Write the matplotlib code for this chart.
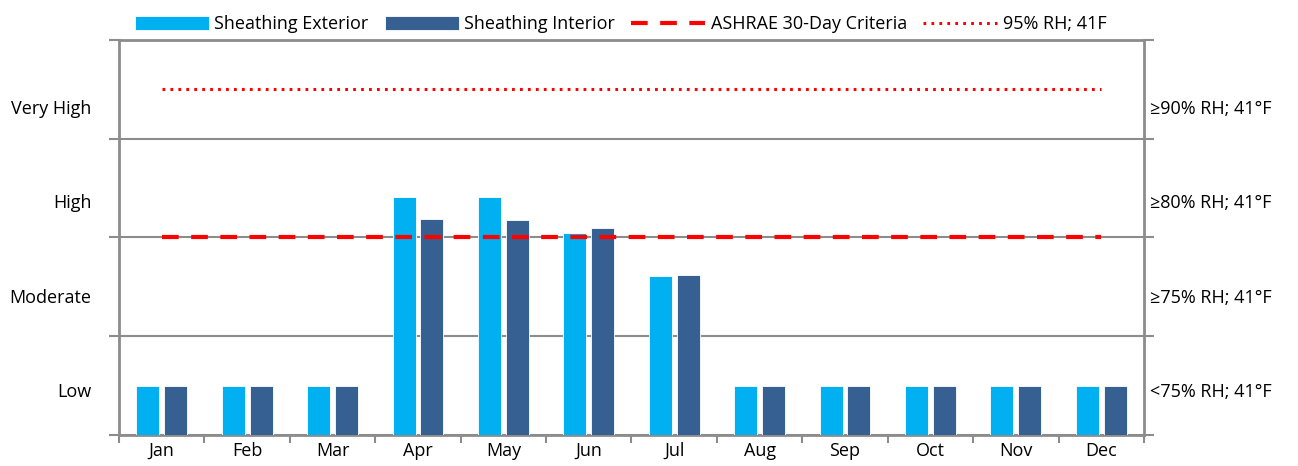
import matplotlib
matplotlib.use("Agg")
import matplotlib.pyplot as plt
import numpy as np

months = ["Jan", "Feb", "Mar", "Apr", "May", "Jun",
          "Jul", "Aug", "Sep", "Oct", "Nov", "Dec"]
exterior = [0.5, 0.5, 0.5, 2.41, 2.41, 2.05, 1.61, 0.5, 0.5, 0.5, 0.5, 0.5]
interior = [0.5, 0.5, 0.5, 2.19, 2.18, 2.10, 1.62, 0.5, 0.5, 0.5, 0.5, 0.5]
ashrae = 2.0
rh95 = 3.5
left_labels = ["Low", "Moderate", "High", "Very High"]
right_labels = ["<75% RH; 41°F", "≥75% RH; 41°F", "≥80% RH; 41°F", "≥90% RH; 41°F"]
label_y = [0.44, 1.39, 2.35, 3.30]

EXT_COLOR = "#00B0F0"
INT_COLOR = "#376092"
GRID = "#8C8C8C"

plt.rcParams.update({
    "font.family": ["Open Sans", "DejaVu Sans"],
    "font.size": 13,
})

fig = plt.figure(figsize=(12.98, 4.66), dpi=100)
ax = fig.add_axes([0.0917, 0.0665, 0.7896, 0.8477])

x = np.arange(len(months))
w = 0.27
b1 = ax.bar(x - 0.163, exterior, width=w, color=EXT_COLOR, edgecolor="white",
            linewidth=0.6, label="Sheathing Exterior", zorder=3)
b2 = ax.bar(x + 0.163, interior, width=w, color=INT_COLOR, edgecolor="white",
            linewidth=0.6, label="Sheathing Interior", zorder=3)
l1, = ax.plot([x[0], x[-1]], [ashrae, ashrae], color="red", lw=3,
              linestyle=(0, (4, 3)), label="ASHRAE 30-Day Criteria", zorder=4)
l2, = ax.plot([x[0], x[-1]], [rh95, rh95], color="red", lw=2.2,
              linestyle=(0, (0.9, 1.7)), label="95% RH; 41F", zorder=4)

ax.set_xlim(-0.5, len(months) - 0.5)
ax.set_ylim(0, 4)

ax.set_yticks([0, 1, 2, 3, 4])
ax.set_yticklabels([])
ax.yaxis.grid(True, color=GRID, lw=1.5, zorder=1)
ax.tick_params(axis="y", which="major", direction="out", length=7, width=1.5,
               color=GRID, left=True, right=True)

ax.set_xticks(x)
ax.set_xticklabels(months)
ax.tick_params(axis="x", which="major", length=0, pad=5)
ax.set_xticks(np.arange(-0.5, len(months)), minor=True)
ax.tick_params(axis="x", which="minor", direction="out", length=6, width=1.5,
               color=GRID)

for s in ax.spines.values():
    s.set_color(GRID)
    s.set_linewidth(2)

for yv, lab in zip(label_y, left_labels):
    ax.text(-0.82, yv, lab, ha="right", va="center")
for yv, lab in zip(label_y, right_labels):
    ax.text(11.57, yv, lab, ha="left", va="center")

fig.legend(handles=[b1, b2, l1, l2], loc="upper center",
           bbox_to_anchor=(0.478, 1.0), ncol=4,
           frameon=False, handlelength=4.1, handleheight=0.85,
           columnspacing=0.9, handletextpad=0.3, borderaxespad=0.45)

fig.savefig("out.png", dpi=100)
